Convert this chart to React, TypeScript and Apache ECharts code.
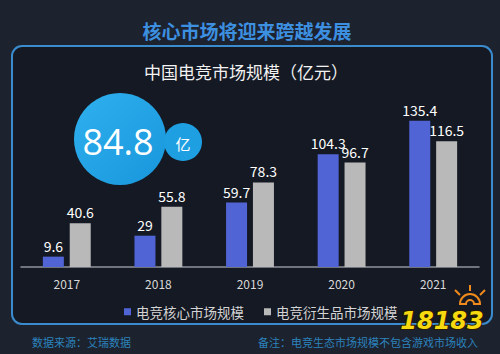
import React, { useEffect, useRef } from "react";
import * as echarts from "echarts";

const years = ["2017", "2018", "2019", "2020", "2021"];
const coreMarket = [9.6, 29, 59.7, 104.3, 135.4];
const derivativeMarket = [40.6, 55.8, 78.3, 96.7, 116.5];
const seriesNames = ["电竞核心市场规模", "电竞衍生品市场规模"];
const headline = "核心市场将迎来跨越发展";
const chartTitle = "中国电竞市场规模（亿元）";
const bigNumber = "84.8";
const bigUnit = "亿";
const sourceNote = "数据来源：艾瑞数据";
const remarkNote = "备注：电竞生态市场规模不包含游戏市场收入";

const FONT = "'Noto Sans CJK SC', 'Noto Sans', sans-serif";

export default function App() {
  const ref = useRef<HTMLDivElement>(null);
  useEffect(() => {
    if (!ref.current) return;
    const chart = echarts.init(ref.current, null, { renderer: "svg" });
    chart.setOption({
      animation: false,
      backgroundColor: "#1c222e",
      textStyle: { fontFamily: FONT },
      grid: { left: 21, right: 21, top: 105, bottom: 87 },
      xAxis: {
        type: "category",
        data: years,
        axisLine: { show: true, lineStyle: { color: "#8d939c", width: 1.5 } },
        axisTick: { show: false },
        axisLabel: { color: "#d8d8d8", fontSize: 12, margin: 10, fontFamily: FONT },
      },
      yAxis: {
        type: "value",
        min: 0,
        max: 150,
        show: false,
        splitLine: { show: false },
      },
      legend: {
        data: seriesNames,
        left: 119,
        top: 300,
        icon: "rect",
        itemWidth: 7,
        itemHeight: 7,
        itemGap: 20,
        textStyle: { color: "#d4d4d4", fontSize: 13.5, fontFamily: FONT },
      },
      series: [
        {
          name: seriesNames[0],
          type: "bar",
          data: coreMarket,
          barWidth: 21,
          barGap: "28%",
          itemStyle: { color: "#5064d6" },
          label: { show: true, position: "top", distance: 4, color: "#ffffff", fontSize: 14, fontFamily: FONT },
          z: 3,
        },
        {
          name: seriesNames[1],
          type: "bar",
          data: derivativeMarket,
          barWidth: 21,
          itemStyle: { color: "#b9b9b9" },
          label: { show: true, position: "top", distance: 4, color: "#ffffff", fontSize: 14, fontFamily: FONT },
          z: 3,
        },
      ],
      graphic: [
        {
          type: "rect",
          shape: { x: 12, y: 46, width: 480, height: 278, r: 10 },
          style: { fill: "#141923", stroke: "#3a8ccf", lineWidth: 2 },
          z: -10,
          silent: true,
        },
        {
          type: "text",
          x: 247,
          y: 30,
          style: {
            text: headline,
            fill: "#3d8fe0",
            fontSize: 19,
            fontWeight: "bold",
            fontFamily: FONT,
            align: "center",
            verticalAlign: "middle",
          },
        },
        {
          type: "text",
          x: 246,
          y: 71,
          style: {
            text: chartTitle,
            fill: "#f2f2f2",
            fontSize: 17,
            fontFamily: FONT,
            align: "center",
            verticalAlign: "middle",
          },
        },
        {
          type: "circle",
          shape: { cx: 120, cy: 139, r: 46 },
          style: {
            fill: new echarts.graphic.LinearGradient(0, 0, 1, 1, [
              { offset: 0, color: "#2fb0ee" },
              { offset: 1, color: "#1896dc" },
            ]),
          },
        },
        {
          type: "text",
          x: 118,
          y: 141,
          style: {
            text: bigNumber,
            fill: "#ffffff",
            fontSize: 36,
            fontFamily: "'Open Sans', 'Noto Sans', sans-serif",
            align: "center",
            verticalAlign: "middle",
          },
        },
        {
          type: "circle",
          shape: { cx: 183, cy: 142, r: 19 },
          style: { fill: "#1e9fe2" },
        },
        {
          type: "text",
          x: 183,
          y: 143,
          style: {
            text: bigUnit,
            fill: "#ffffff",
            fontSize: 15,
            fontFamily: FONT,
            align: "center",
            verticalAlign: "middle",
          },
        },
        {
          type: "text",
          x: 32,
          y: 342,
          style: {
            text: sourceNote,
            fill: "#2c82bd",
            fontSize: 11,
            fontFamily: FONT,
            align: "left",
            verticalAlign: "middle",
          },
        },
        {
          type: "text",
          x: 478,
          y: 342,
          style: {
            text: remarkNote,
            fill: "#2c82bd",
            fontSize: 11,
            fontFamily: FONT,
            align: "right",
            verticalAlign: "middle",
          },
        },
        {
          type: "group",
          children: [
            {
              type: "sector",
              shape: { cx: 470, cy: 304, r0: 4, r: 10, startAngle: Math.PI, endAngle: Math.PI * 2 },
              style: { fill: "none", stroke: "#f08a1c", lineWidth: 2 },
            },
            {
              type: "line",
              shape: { x1: 470, y1: 291, x2: 470, y2: 285 },
              style: { stroke: "#f08a1c", lineWidth: 2 },
            },
            {
              type: "line",
              shape: { x1: 460, y1: 295, x2: 455, y2: 290 },
              style: { stroke: "#f08a1c", lineWidth: 2 },
            },
            {
              type: "line",
              shape: { x1: 480, y1: 295, x2: 485, y2: 290 },
              style: { stroke: "#f08a1c", lineWidth: 2 },
            },
            {
              type: "text",
              x: 442,
              y: 321,
              style: {
                text: "18183",
                fill: "#f6d90f",
                stroke: "#2a1a00",
                lineWidth: 2,
                fontSize: 24,
                fontWeight: "bold",
                fontStyle: "italic",
                fontFamily: "'DejaVu Sans', sans-serif",
                align: "center",
                verticalAlign: "middle",
              },
            },
          ],
        },
      ],
    });
    return () => chart.dispose();
  }, []);
  return <div ref={ref} style={{ width: 500, height: 354, position: "absolute", left: 0, top: 0 }} />;
}
